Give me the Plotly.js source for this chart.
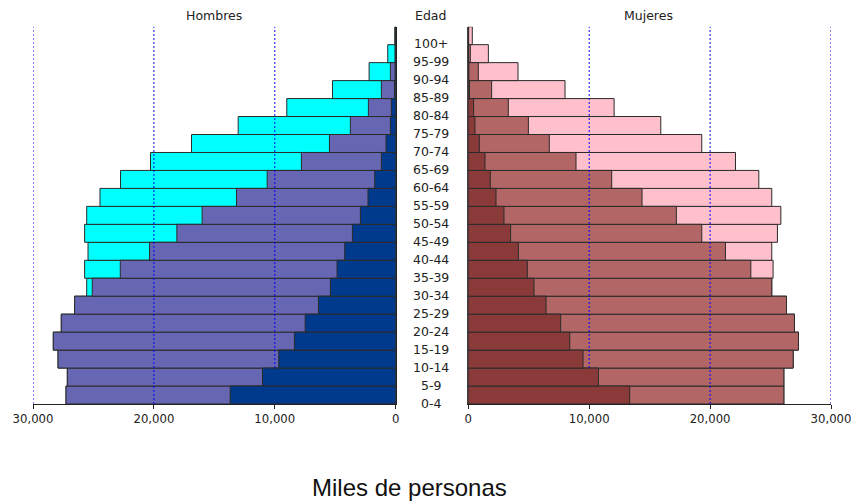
<!DOCTYPE html>
<html>
<head>
<meta charset="utf-8">
<script src="https://cdn.plot.ly/plotly-3.0.1.min.js"></script>
<style>html,body{margin:0;padding:0;background:#fff;}#chart{width:851px;height:504px;}</style>
</head>
<body>
<div id="chart"></div>
<script>
// Age groups, bottom to top
const ages = ['0-4','5-9','10-14','15-19','20-24','25-29','30-34','35-39','40-44','45-49','50-54','55-59','60-64','65-69','70-74','75-79','80-84','85-89','90-94','95-99','100+'];

// Hombres (cumulative levels, thousands of persons)
const hombresTotal  = [27270,27160,27930,28320,27660,26560,25560,25730,25450,25730,25560,24460,22760,20280,16890,13030,9010,5230,2200,660,80];
const hombresMedio  = [27270,27160,27930,28320,27660,26560,25100,22780,20360,18100,16010,13170,10630,7800,5480,3750,2260,1185,440,60,20];
const hombresOscuro = [13690,11020,9670,8380,7490,6390,5400,4850,4215,3580,2920,2290,1735,1185,800,440,360,100,50,20,5];

// Mujeres (cumulative levels, thousands of persons)
const mujeresTotal  = [26100,26100,26870,27310,26980,26320,25100,25210,25100,25570,25850,25100,24030,22100,19310,15920,12060,8000,4110,1660,330];
const mujeresMedio  = [26100,26100,26870,27310,26980,26320,25100,23370,21270,19310,17210,14370,11860,8910,6700,4970,3310,1930,830,165,30];
const mujeresOscuro = [13350,10760,9490,8390,7640,6430,5430,4880,4140,3500,2950,2290,1820,1380,910,550,440,100,50,20,5];

const gridTicks = [10000,20000,30000];
const xTicks = [0,10000,20000,30000];

const idx = ages.map((_, i) => i);
const yRange = [-0.5, ages.length - 0.5];
const outline = {color:'#2b2b2b', width:1};

function bar(vals, color, xa, ya){
  return {type:'bar', orientation:'h', x:vals, y:idx, xaxis:xa, yaxis:ya,
    marker:{color:color, line:outline}, hoverinfo:'skip', showlegend:false};
}
function grid(xa, ya){
  const gx = [], gy = [];
  gridTicks.forEach(t => { gx.push(t, t, null); gy.push(yRange[0], yRange[1], null); });
  return {type:'scatter', mode:'lines', x:gx, y:gy, xaxis:xa, yaxis:ya,
    line:{color:'#0000ff', width:1, dash:'2px,2px'}, hoverinfo:'skip', showlegend:false};
}

const data = [
  bar(hombresTotal, '#00ffff', 'x', 'y'),
  bar(hombresMedio, '#6666b3', 'x', 'y'),
  grid('x', 'y'),
  bar(hombresOscuro, '#003a8c', 'x3', 'y3'),
  bar(mujeresTotal, '#ffc0cb', 'x2', 'y2'),
  bar(mujeresMedio, '#b36666', 'x2', 'y2'),
  grid('x2', 'y2'),
  bar(mujeresOscuro, '#8b3a3a', 'x4', 'y4')
];

const W = 851, H = 504;
const yDom = [(H-404)/H, (H-26.7)/H];
const leftDom = [33/W, 395.7/W];
const rightDom = [468.3/W, 831/W];
const tickFont = {family:'DejaVu Sans', size:11.7, color:'#222'};

const xBase = {
  tickvals:xTicks, tickformat:',', ticks:'outside', ticklen:4, tickcolor:'#222',
  showline:true, linecolor:'#222', linewidth:1, showgrid:false, zeroline:false,
  tickfont:tickFont, fixedrange:true, ticklabeloverflow:'allow'
};

const annotations = [];
ages.forEach((a, i) => {
  annotations.push({text:a, x:431/W, xref:'paper', y:i, yref:'y', yshift:-8,
    xanchor:'center', yanchor:'middle', showarrow:false,
    font:{family:'DejaVu Sans', size:12.5, color:'#222'}});
});
const titleFont = {family:'DejaVu Sans', size:12.5, color:'#222'};
annotations.push({text:'Hombres', x:214/W, y:(H-15)/H, xref:'paper', yref:'paper', xanchor:'center', yanchor:'middle', showarrow:false, font:titleFont});
annotations.push({text:'Edad', x:430.5/W, y:(H-15)/H, xref:'paper', yref:'paper', xanchor:'center', yanchor:'middle', showarrow:false, font:titleFont});
annotations.push({text:'Mujeres', x:648.5/W, y:(H-15)/H, xref:'paper', yref:'paper', xanchor:'center', yanchor:'middle', showarrow:false, font:titleFont});
annotations.push({text:'Miles de personas', x:409.5/W, y:(H-487)/H, xref:'paper', yref:'paper', xanchor:'center', yanchor:'middle', showarrow:false, font:{family:'Liberation Sans', size:24, color:'#111'}});

const layout = {
  width:W, height:H, margin:{l:0, r:0, t:0, b:0},
  paper_bgcolor:'#fff', plot_bgcolor:'rgba(0,0,0,0)',
  barmode:'overlay', bargap:0, showlegend:false,
  xaxis: Object.assign({}, xBase, {domain:leftDom, range:[30000,0], anchor:'y'}),
  xaxis2: Object.assign({}, xBase, {domain:rightDom, range:[0,30000], anchor:'y2'}),
  xaxis3: {overlaying:'x', anchor:'y3', range:[30000,0], visible:false, fixedrange:true},
  xaxis4: {overlaying:'x2', anchor:'y4', range:[0,30000], visible:false, fixedrange:true},
  yaxis: {domain:yDom, range:yRange, anchor:'x', side:'right', showticklabels:false, ticks:'',
    showline:true, linecolor:'#222', linewidth:1.5, showgrid:false, zeroline:false, fixedrange:true},
  yaxis2: {domain:yDom, range:yRange, anchor:'x2', side:'left', showticklabels:false, ticks:'',
    showline:true, linecolor:'#444', linewidth:1, showgrid:false, zeroline:false, fixedrange:true},
  yaxis3: {overlaying:'y', anchor:'x3', range:yRange, visible:false, fixedrange:true},
  yaxis4: {overlaying:'y2', anchor:'x4', range:yRange, visible:false, fixedrange:true},
  annotations: annotations
};

Plotly.newPlot('chart', data, layout, {displayModeBar:false, staticPlot:true});
</script>
</body>
</html>
